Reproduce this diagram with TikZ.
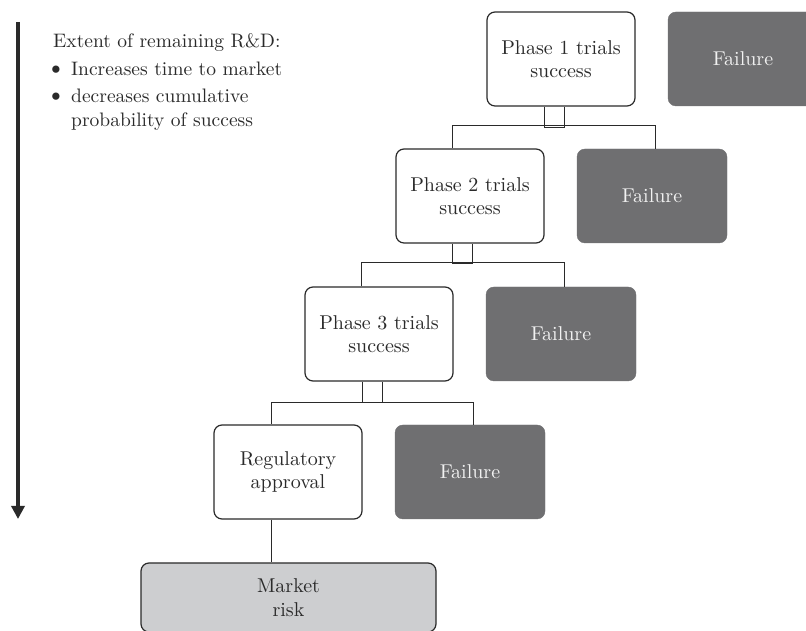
\documentclass[tikz,border=0pt]{standalone}
\usepackage{fontspec}
\setmainfont{lmroman10-regular}[Extension=.otf]
\usetikzlibrary{arrows.meta}
\definecolor{failgray}{HTML}{6F6F71}
\definecolor{mkgray}{HTML}{CDCED0}
\definecolor{ink}{HTML}{2A2A2A}
\definecolor{failtext}{HTML}{F2F2F2}
\tikzset{
  box/.style={rectangle, rounded corners=8pt, draw=ink, line width=1.2pt, fill=white,
    minimum width=148pt, minimum height=94pt, inner sep=0pt, align=center,
    text=ink, font=\fontsize{20}{23.5}\selectfont},
  failbox/.style={rectangle, rounded corners=8pt, draw=failgray, fill=failgray,
    minimum width=150pt, minimum height=94pt, inner sep=0pt, align=center,
    text=failtext, font=\fontsize{20}{23.5}\selectfont},
  mkbox/.style={rectangle, rounded corners=8pt, draw=ink, line width=1.2pt, fill=mkgray,
    minimum width=295pt, minimum height=69pt, inner sep=0pt, align=center,
    text=ink, font=\fontsize{20}{24}\selectfont},
  conn/.style={draw=ink, line width=1pt},
  lbl/.style={anchor=base west, inner sep=0pt, text=ink, font=\fontsize{19.5}{23}\selectfont},
}
\begin{document}
\begin{tikzpicture}[x=1pt, y=1pt]
\useasboundingbox (0,0) rectangle (806,631);
\clip (0,0) rectangle (806,631);
% boxes
\node[box] (p1) at (561,572) {Phase 1 trials\\success};
\node[failbox] (f1) at (743,572) {Failure};
\node[box] (p2) at (470,435) {Phase 2 trials\\success};
\node[failbox] (f2) at (652,435) {Failure};
\node[box] (p3) at (379,297) {Phase 3 trials\\success};
\node[failbox] (f3) at (561,297) {Failure};
\node[box] (reg) at (288,159) {Regulatory\\approval};
\node[failbox] (f4) at (470,159) {Failure};
\node[mkbox] (mk) at (288.5,33.5) {Market\\risk};
% connectors level 1
\draw[conn] ([xshift=58pt]p1.south west) -- ++(0,-21) -- ++(20,0) -- ++(0,21);
\draw[conn] ([xshift=57pt]p2.north west) -- ++(0,23) -| ([xshift=79pt]f2.north west);
% level 2
\draw[conn] ([xshift=57pt]p2.south west) -- ++(0,-20) -- ++(20,0) -- ++(0,20);
\draw[conn] ([xshift=57pt]p3.north west) -- ++(0,24) -| ([xshift=79pt]f3.north west);
% level 3
\draw[conn] ([xshift=58pt]p3.south west) -- ++(0,-21) -- ++(20,0) -- ++(0,21);
\draw[conn] ([xshift=58pt]reg.north west) -- ++(0,22) -| ([xshift=79pt]f4.north west);
% to market risk
\draw[draw=ink, line width=1.8pt] ([xshift=58pt]reg.south west) -- ([xshift=58pt]reg.south west |- mk.north);
% arrow
\coordinate (atop) at (18,609);
\coordinate (abot) at (18,112);
\draw[draw=ink, line width=3.5pt, -{Triangle[length=13pt,width=13pt]}] (atop) -- (abot);
% text
\node[lbl] (t1) at (53,583) {Extent of remaining R\&D:};
\node[lbl] (b1) at (46,555) {\scalebox{1.3}{\textbullet}};
\node[lbl] (t2) at (71,555) {Increases time to market};
\node[lbl] (b2) at (46,528) {\scalebox{1.3}{\textbullet}};
\node[lbl] (t3) at (71,528) {decreases cumulative};
\node[lbl] (t4) at (71,504) {probability of success};
\end{tikzpicture}
\end{document}
